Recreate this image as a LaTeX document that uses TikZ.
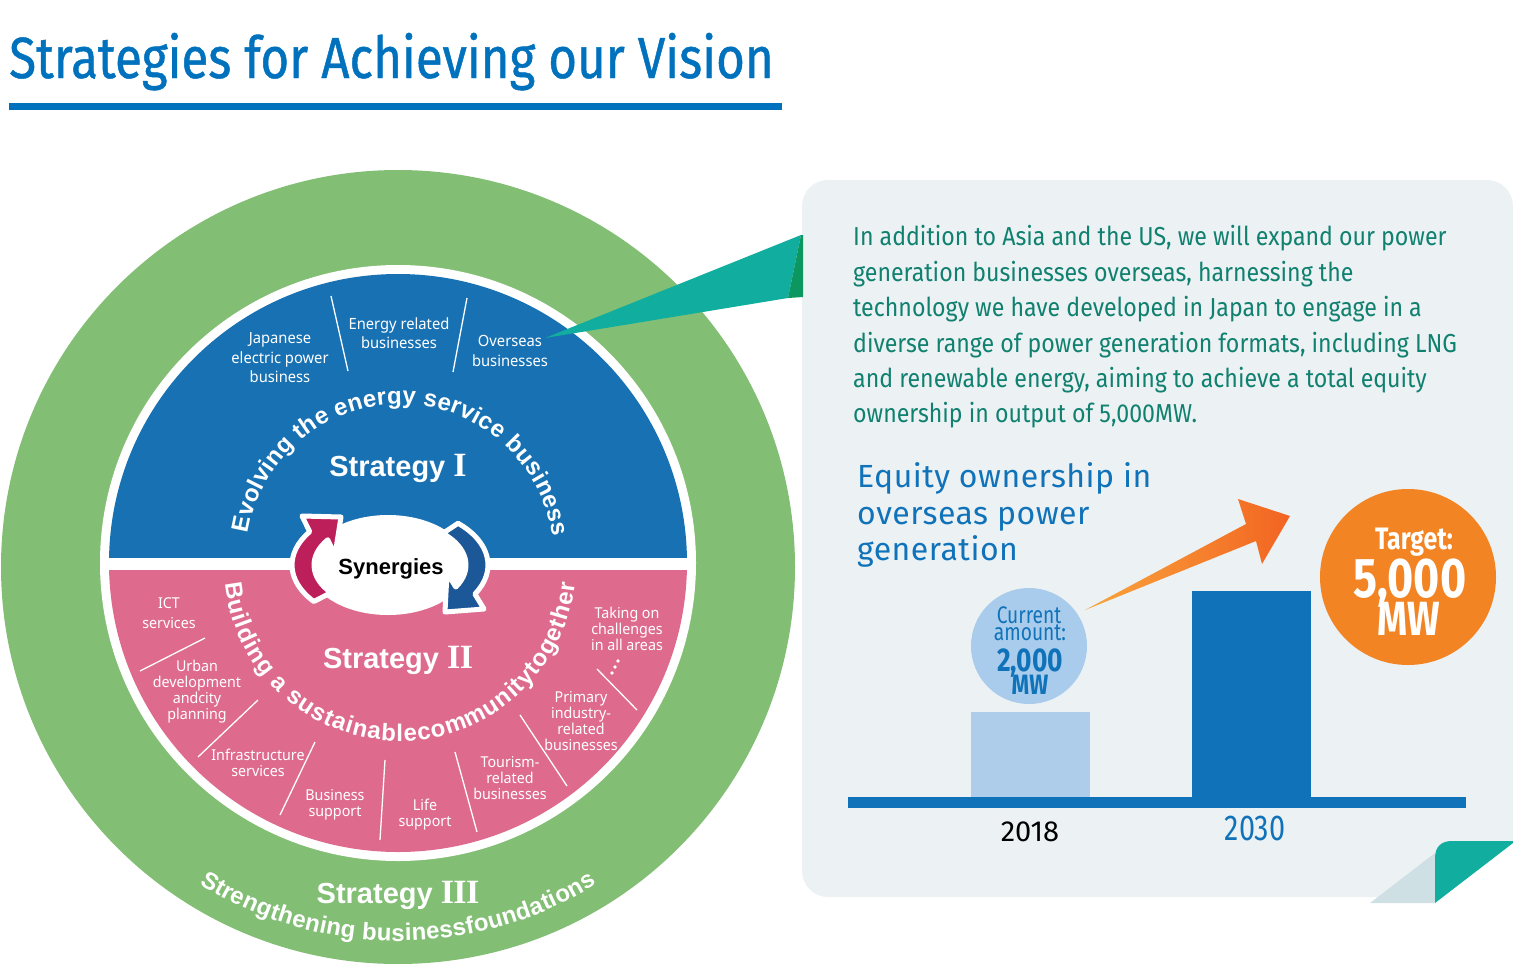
\documentclass[tikz,border=0pt]{standalone}
\usepackage{fontspec}
\setmainfont{Liberation Sans}
\newfontfamily\arialf{Liberation Sans}
\newfontfamily\serf{Liberation Serif}
\newfontfamily\condf[FakeStretch=0.80]{Fira Sans}
\newfontfamily\paraf[FakeStretch=0.89]{Fira Sans}
\newfontfamily\titlef[FakeStretch=0.85,FakeBold=0.8]{Fira Sans}
\newfontfamily\fira{Fira Sans}
\newfontfamily\eqf[LetterSpace=1.5]{Fira Sans}
\newfontfamily\labf[FakeStretch=0.95]{Noto Sans}
\usetikzlibrary{decorations.text,calc}
\definecolor{ringgreen}{HTML}{82BE74}
\definecolor{sIblue}{HTML}{1771B3}
\definecolor{sIIpink}{HTML}{DE6B8E}
\definecolor{synred}{HTML}{BD1F5B}
\definecolor{synblue}{HTML}{1C5897}
\definecolor{ptrteal}{HTML}{11AE9F}
\definecolor{ptrdark}{HTML}{0C9660}
\definecolor{panelbg}{HTML}{ECF1F4}
\definecolor{paratext}{HTML}{10806F}
\definecolor{titleblue}{HTML}{0071BC}
\definecolor{chartblue}{HTML}{1073BA}
\definecolor{lightbar}{HTML}{AECDEB}
\definecolor{curcircle}{HTML}{A9CCEC}
\definecolor{targetorange}{HTML}{F28423}
\definecolor{arrowlight}{HTML}{F9A53B}
\definecolor{arrowdark}{HTML}{F26422}
\definecolor{foldgrey}{HTML}{CFE0E4}
\newcommand{\romnum}[1]{{\serf\fontsize{34}{34}\selectfont #1}}
\begin{document}
\begin{tikzpicture}[x=1pt,y=-1pt,
  lab/.style={text=white, font=\labf\fontsize{15.5}{19.5}\selectfont, align=center, inner sep=0pt},
  plab/.style={text=white, font=\labf\fontsize{15}{16}\selectfont, align=center, inner sep=0pt},
  divline/.style={draw=white, line width=1.3pt},
  strat/.style={text=white, font=\arialf\bfseries\fontsize{29}{29}\selectfont, inner sep=0pt, anchor=base},
  para/.style={text=paratext, font=\paraf\fontsize{26}{26}\selectfont, anchor=base west, inner sep=0pt},
  eqt/.style={text=chartblue, font=\eqf\fontsize{32}{32}\selectfont, anchor=base west, inner sep=0pt}
]
\useasboundingbox (0,0) rectangle (1513,964);

% ---------- title ----------
\node[anchor=base west, inner sep=0pt, text=titleblue, font=\titlef\fontsize{58}{58}\selectfont] (title) at (9,78) {Strategies for Achieving our Vision};
\fill[titleblue] (9,103) rectangle (782,110);

% ---------- circles ----------
\coordinate (cI) at (400,558);
\coordinate (cII) at (400,565);
\coordinate (cIII) at (398,566);
\fill[ringgreen] (398,567) circle (397);
\fill[white] (398,563) circle (298);
\begin{scope}
  \clip (100,250) rectangle (700,557);
  \fill[sIblue] (398,563) circle (289);
\end{scope}
\begin{scope}
  \clip (100,570) rectangle (700,870);
  \fill[sIIpink] (398,563) circle (289);
\end{scope}

% divider lines (blue)
\draw[divline] (331,296) -- (348,371);
\draw[divline] (467,298) -- (453,372);
% divider lines (pink)
\draw[divline] (140,671) -- (205,638);
\draw[divline] (198,757) -- (258,700);
\draw[divline] (280,815) -- (315,742);
\draw[divline] (380,840) -- (385,760);
\draw[divline] (455,752) -- (477,832);
\draw[divline] (520,715) -- (567,786);
\draw[divline] (597,669) -- (637,710);

% labels blue
\node[lab] (jp) at (280,358) {Japanese\\electric power\\business};
\node[lab] (er) at (399,333) {Energy related\\businesses};
\node[lab] (ov) at (510,351) {Overseas\\businesses};
% labels pink
\node[plab, font=\labf\fontsize{15}{20}\selectfont] (ict) at (169,613) {ICT\\services};
\node[plab] (urb) at (197,692) {Urban\\development\\andcity\\planning};
\node[plab] (inf) at (258,763) {Infrastructure\\services};
\node[plab] (bus) at (335,805) {Business\\support};
\node[plab] (life) at (425,815) {Life\\support};
\node[plab] (tour) at (510,778) {Tourism-\\related\\businesses};
\node[plab] (prim) at (581,721) {Primary\\industry-\\related\\businesses};
\node[plab] (take) at (627,629) {Taking on\\challenges\\in all areas};
\fill[white] (612,673) circle (1.9);
\fill[white] (615,667) circle (1.9);
\fill[white] (618,661) circle (1.9);

% curved texts
\path[decorate, decoration={text along path, text color=white, text align={fit to path},
  text={|\arialf\bfseries\fontsize{24}{24}\selectfont|Evolving the energy service business }}]
  ($(cI)+(-171:154)$) arc[start angle=-171, end angle=-8, radius=154];
\path[decorate, decoration={text along path, text color=white, text align={fit to path},
  text={|\arialf\bfseries\fontsize{24}{24}\selectfont|Building a sustainablecommunitytogether}}]
  ($(cII)+(174:176)$) arc[start angle=174, end angle=6, radius=176];
\path[decorate, decoration={text along path, text color=white, text align={fit to path},
  text={|\arialf\bfseries\fontsize{24}{24}\selectfont|Strengthening businessfoundations}}]
  ($(cIII)+(122:375)$) arc[start angle=122, end angle=58, radius=375];

% strategy labels
\node[strat] (stI) at (398,476) {Strategy \romnum{I}};
\node[strat] (stII) at (398,668) {Strategy \romnum{I\kern-0.6ptI}};
\node[strat] (stIII) at (398,903) {Strategy \romnum{I\kern-0.6ptI\kern-0.6ptI}};

% synergies
\coordinate (sc) at (390,565);
\fill[white] (388,565) ellipse [x radius=80, y radius=50];
\filldraw[fill=synred, draw=white, line width=5pt, line join=round]
  ($(sc)+(141:98 and 58)$) arc[start angle=141, end angle=215, x radius=98, y radius=58]
  -- (302,516) -- (341,517) -- (335,555)
  -- ($(sc)+(215:76 and 44)$) arc[start angle=215, end angle=141, x radius=76, y radius=44] -- cycle;
\filldraw[fill=synblue, draw=white, line width=5pt, line join=round]
  ($(sc)+(314:98 and 58)$) arc[start angle=314, end angle=390, x radius=98, y radius=58]
  -- (484,609) -- (445,612) -- (447,573)
  -- ($(sc)+(390:76 and 44)$) arc[start angle=390, end angle=314, x radius=76, y radius=44] -- cycle;
\node[anchor=base, inner sep=0pt, font=\arialf\bfseries\fontsize{22}{22}\selectfont] (syn) at (391,574) {Synergies};

% ---------- panel ----------
\fill[panelbg, rounded corners=26pt] (802,180) rectangle (1513,897);
\fill[white] (1435,903) -- (1513,842) -- (1513,964) -- (1435,964) -- cycle;
\fill[foldgrey] (1370,903) -- (1435,853) -- (1435,903) -- cycle;
\fill[ptrteal] (1435,903) -- (1435,858) .. controls (1435,847) and (1441,841) .. (1452,841) -- (1513,841) -- (1513,843) -- cycle;

% pointer
\fill[ptrteal] (545,338) -- (801,235) -- (788,298) -- cycle;
\fill[ptrdark] (801,235) -- (803,235) -- (803,297) -- (788,298) -- cycle;

% paragraph
\node[para] (p1) at (853,245) {In addition to Asia and the US, we will expand our power};
\node[para] (p2) at (853,281) {generation businesses overseas, harnessing the};
\node[para] (p3) at (853,316) {technology we have developed in Japan to engage in a};
\node[para] (p4) at (853,352) {diverse range of power generation formats, including LNG};
\node[para] (p5) at (853,387) {and renewable energy, aiming to achieve a total equity};
\node[para] (p6) at (853,422) {ownership in output of 5,000MW.};

% chart title
\node[eqt] (eq1) at (857,487) {Equity ownership in};
\node[eqt] (eq2) at (857,524) {overseas power};
\node[eqt] (eq3) at (857,560) {generation};

% chart
\fill[lightbar] (971,712) rectangle (1090,797);
\fill[chartblue] (1192,591) rectangle (1311,797);
\fill[chartblue] (848,797) rectangle (1466,808);
\node[anchor=base, inner sep=0pt, font=\fira\fontsize{29}{29}\selectfont] (y1) at (1030,841) {2018};
\node[anchor=base, inner sep=0pt, text=chartblue, font=\condf\fontsize{36}{36}\selectfont] (y2) at (1255,840) {2030};

% current amount
\fill[curcircle] (1029,646) circle (58);
\node[anchor=base, inner sep=0pt, text=chartblue, font=\condf\fontsize{24}{24}\selectfont] (cur1) at (1029,623) {Current};
\node[anchor=base, inner sep=0pt, text=chartblue, font=\condf\fontsize{24}{24}\selectfont] (cur2) at (1030,640) {amount:};
\node[anchor=base, inner sep=0pt, text=chartblue, font=\condf\bfseries\fontsize{33}{33}\selectfont] (cur3) at (1030,671) {2,000};
\node[anchor=base, inner sep=0pt, text=chartblue, font=\condf\bfseries\fontsize{28}{28}\selectfont] (cur4) at (1030,694) {MW};

% arrow
\shade[left color=arrowlight, right color=arrowdark] (1085,610) -- (1246,524) -- (1238,499) -- (1290,516) -- (1262,564) -- (1256,541) -- cycle;

% target
\fill[targetorange] (1408,577) circle (88);
\node[anchor=base, inner sep=0pt, text=white, font=\condf\bfseries\fontsize{31}{31}\selectfont] (tg1) at (1414,549) {Target:};
\node[anchor=base, inner sep=0pt, text=white, font=\condf\bfseries\fontsize{56}{56}\selectfont] (tg2) at (1410,597) {5,000};
\node[anchor=base, inner sep=0pt, text=white, font=\condf\bfseries\fontsize{48}{48}\selectfont] (tg3) at (1409,635) {MW};
\end{tikzpicture}
\end{document}
